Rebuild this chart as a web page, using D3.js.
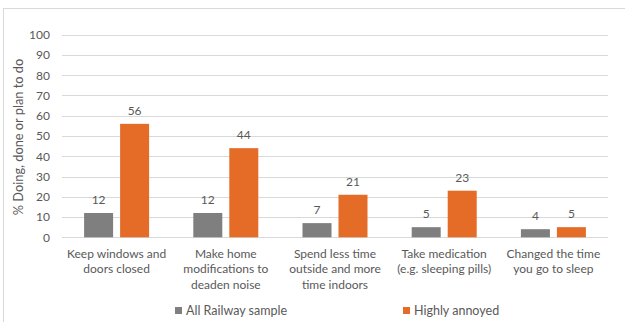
<!DOCTYPE html>
<html>
<head>
<meta charset="utf-8">
<script src="https://cdn.jsdelivr.net/npm/d3@7"></script>
<style>
  body { margin: 0; background: #fff; }
  svg { display: block; font-family: Lato, "Open Sans", sans-serif; }
</style>
</head>
<body>
<svg id="chart" width="625" height="322"></svg>
<script>
// chart data
var categories = [
    ["Keep windows and", "doors closed"],
    ["Make home", "modifications to", "deaden noise"],
    ["Spend less time", "outside and more", "time indoors"],
    ["Take medication", "(e.g. sleeping pills)"],
    ["Changed the time", "you go to sleep"]
];
var seriesNames = ["All Railway sample", "Highly annoyed"];
var railway = [12, 12, 7, 5, 4];
var annoyed = [56, 44, 21, 23, 5];
var yTicks = [0, 10, 20, 30, 40, 50, 60, 70, 80, 90, 100];
var colors = ["#7f7f7f", "#e46c27"];

var svg = d3.select("#chart");
var plotLeft = 62, plotRight = 608, plotTop = 34.7, plotBottom = 237.3;

// outer frame (only top and left edges fall inside the picture)
svg.append("rect")
    .attr("x", 3.5).attr("y", 8.5)
    .attr("width", 700).attr("height", 400)
    .attr("fill", "none")
    .attr("stroke", "#d9d9d9");

var x = d3.scaleBand()
    .domain(d3.range(categories.length))
    .range([plotLeft, plotRight]);

var y = d3.scaleLinear()
    .domain([0, 100])
    .range([plotBottom, plotTop]);

// gridlines
svg.append("g")
    .selectAll("line")
    .data(yTicks)
    .enter()
    .append("line")
    .attr("x1", plotLeft).attr("x2", plotRight)
    .attr("y1", function (d) { return Math.round(y(d)) + 0.5; })
    .attr("y2", function (d) { return Math.round(y(d)) + 0.5; })
    .attr("stroke", "#d9d9d9")
    .attr("stroke-width", 1);

// y axis labels
var yAxis = svg.append("g")
    .attr("transform", "translate(" + plotLeft + ",0)")
    .call(d3.axisLeft(y).tickValues(yTicks).tickSize(0).tickPadding(12));
yAxis.select(".domain").remove();
yAxis.selectAll("text")
    .attr("fill", "#595959")
    .style("font-size", "12px")
    .style("font-family", "Lato, sans-serif");

svg.append("text")
    .attr("transform", "translate(23," + ((plotTop + plotBottom) / 2 + 1) + ") rotate(-90)")
    .attr("text-anchor", "middle")
    .attr("fill", "#595959")
    .style("font-size", "12.8px")
    .text("% Doing, done or plan to do");

// bars
var barW = 29, gap = 7;
var series = [railway, annoyed];

series.forEach(function (vals, s) {
    var g = svg.append("g");
    var offset = s === 0 ? -(gap / 2 + barW) : gap / 2;

    g.selectAll("rect")
        .data(vals)
        .enter()
        .append("rect")
        .attr("x", function (d, i) { return x(i) + x.bandwidth() / 2 + offset; })
        .attr("y", function (d) { return y(d); })
        .attr("width", barW)
        .attr("height", function (d) { return plotBottom - y(d); })
        .attr("fill", colors[s]);

    g.selectAll("text")
        .data(vals)
        .enter()
        .append("text")
        .attr("x", function (d, i) { return x(i) + x.bandwidth() / 2 + offset + barW / 2; })
        .attr("y", function (d) { return y(d) - 9; })
        .attr("text-anchor", "middle")
        .attr("fill", "#595959")
        .style("font-size", "12px")
        .text(function (d) { return d; });
});

// category labels
var cat = svg.append("g")
    .selectAll("text")
    .data(categories)
    .enter()
    .append("text")
    .attr("x", function (d, i) { return x(i) + x.bandwidth() / 2; })
    .attr("y", 258)
    .attr("text-anchor", "middle")
    .attr("fill", "#595959")
    .style("font-size", "12px");

cat.selectAll("tspan")
    .data(function (d) { return d; })
    .enter()
    .append("tspan")
    .attr("x", function () { return d3.select(this.parentNode).attr("x"); })
    .attr("dy", function (d, i) { return i === 0 ? 0 : 15.3; })
    .text(function (d) { return d; });

// legend
var legendX = [175, 403];
var legend = svg.append("g")
    .selectAll("g")
    .data(seriesNames)
    .enter()
    .append("g")
    .attr("transform", function (d, i) {
        return "translate(" + legendX[i] + ",307)";
    });

legend.append("rect")
    .attr("width", 7)
    .attr("height", 7)
    .attr("fill", function (d, i) { return colors[i]; });

legend.append("text")
    .attr("x", 11)
    .attr("y", 8)
    .attr("fill", "#595959")
    .style("font-size", "12.5px")
    .text(function (d) { return d; });
</script>
</body>
</html>
